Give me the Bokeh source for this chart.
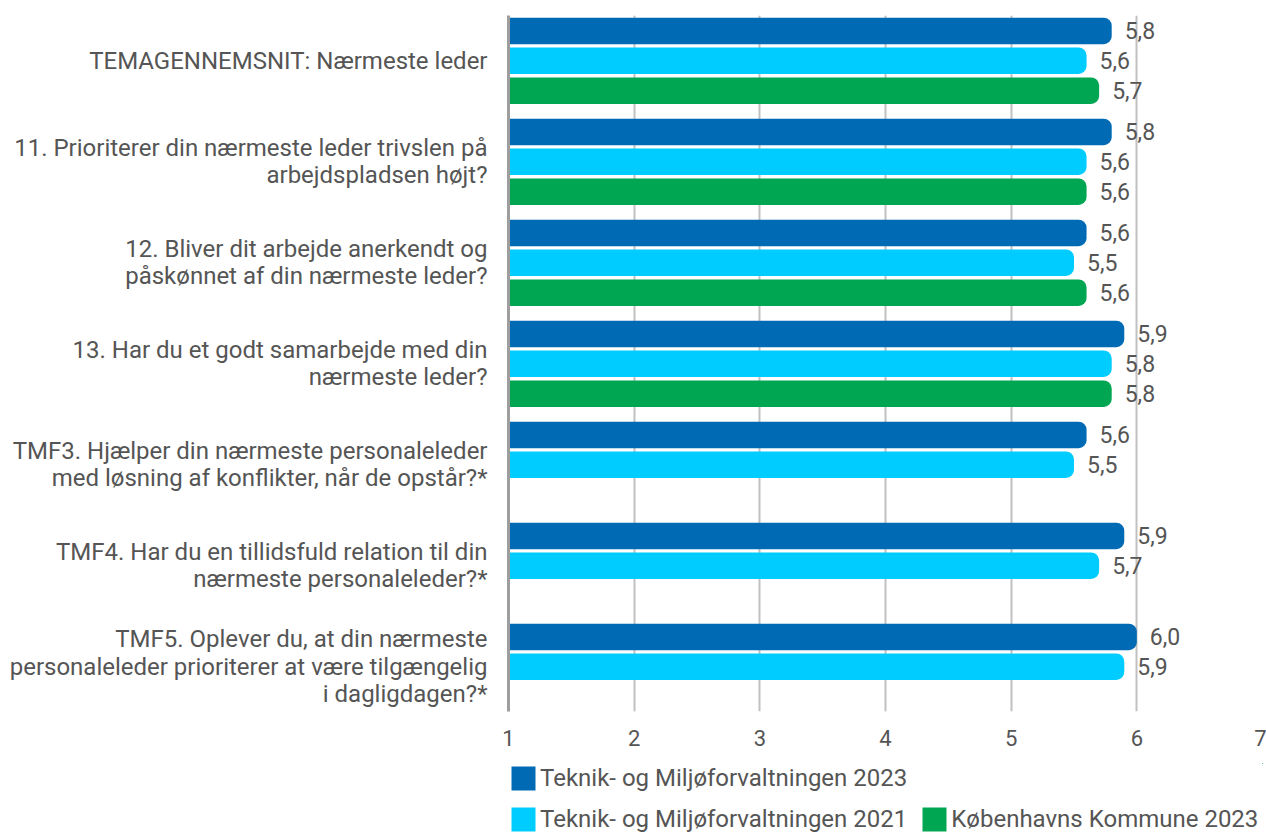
from bokeh.plotting import figure
from bokeh.layouts import column
from bokeh.models import (ColumnDataSource, Range1d, LabelSet, Legend, LegendItem,
                          FixedTicker)
from bokeh.core.properties import value
from bokeh.embed import file_html
from bokeh.resources import INLINE

categories = [
    "TEMAGENNEMSNIT: Nærmeste leder",
    "11. Prioriterer din nærmeste leder trivslen på\narbejdspladsen højt?",
    "12. Bliver dit arbejde anerkendt og\npåskønnet af din nærmeste leder?",
    "13. Har du et godt samarbejde med din\nnærmeste leder?",
    "TMF3. Hjælper din nærmeste personaleleder\nmed løsning af konflikter, når de opstår?*",
    "TMF4. Har du en tillidsfuld relation til din\nnærmeste personaleleder?*",
    "TMF5. Oplever du, at din nærmeste\npersonaleleder prioriterer at være tilgængelig\ni dagligdagen?*",
]
series_names = ["Teknik- og Miljøforvaltningen 2023",
                "Teknik- og Miljøforvaltningen 2021",
                "Københavns Kommune 2023"]
tmf_2023 = [5.8, 5.8, 5.6, 5.9, 5.6, 5.9, 6.0]
tmf_2021 = [5.6, 5.6, 5.5, 5.8, 5.5, 5.7, 5.9]
kk_2023 = [5.7, 5.6, 5.6, 5.8, None, None, None]
x_ticks = [1, 2, 3, 4, 5, 6, 7]

colors = ["#006AB4", "#00CCFF", "#00A651"]
offsets = [0.153, 0.447, 0.744]
bar_h = 0.262
text_color = "#555555"
FONT = "Roboto"

p = figure(frame_width=754, frame_height=696, output_backend="svg", toolbar_location=None,
           x_range=Range1d(1, 7), y_range=Range1d(6.891, 0),
           min_border_left=508, min_border_right=4, min_border_top=15,
           min_border_bottom=50)
p.outline_line_color = None
p.background_fill_color = "white"

sources = []
for vals, col, off in zip([tmf_2023, tmf_2021, kk_2023], colors, offsets):
    ys = [i + off for i, v in enumerate(vals) if v is not None]
    xs = [v for v in vals if v is not None]
    src = ColumnDataSource(dict(y=ys, right=xs,
                                txt=[f"{v:.1f}".replace(".", ",") for v in xs]))
    sources.append(src)
    p.hbar(y="y", left=1, right="right", height=bar_h, source=src,
           fill_color=col, line_color=None, border_radius=(0, 8, 8, 0))
    p.add_layout(LabelSet(x="right", y="y", text="txt", source=src, x_offset=13,
                          text_baseline="middle", text_align="left",
                          text_font=value(FONT), text_font_size="23px",
                          text_color=text_color))

# x axis
p.xaxis.ticker = FixedTicker(ticks=x_ticks)
p.xaxis.axis_line_color = None
p.xaxis.major_tick_line_color = None
p.xaxis.minor_tick_line_color = None
p.xaxis.major_label_standoff = 12
p.xaxis.major_label_text_font = FONT
p.xaxis.major_label_text_font_size = "22px"
p.xaxis.major_label_text_color = text_color

# y axis carries the question labels
ytick_pos = [i + offsets[1] for i in range(len(categories))]
p.yaxis.ticker = FixedTicker(ticks=ytick_pos)
p.yaxis.major_label_overrides = {t: c for t, c in zip(ytick_pos, categories)}
p.yaxis.axis_line_color = "#9e9e9e"
p.yaxis.axis_line_width = 3
p.yaxis.major_tick_line_color = None
p.yaxis.major_tick_out = 0
p.yaxis.major_tick_in = 0
p.yaxis.minor_tick_line_color = None
p.yaxis.major_label_standoff = 21
p.yaxis.major_label_text_font = FONT
p.yaxis.major_label_text_font_size = "24px"
p.yaxis.major_label_text_color = text_color
p.yaxis.major_label_text_line_height = 0.97

p.xgrid.grid_line_color = "#c0c0c0"
p.xgrid.grid_line_width = 2
p.ygrid.grid_line_color = None

# legend strip below the chart (its bars lie outside its visible range)
lp = figure(width=1266, height=73, output_backend="svg", toolbar_location=None,
            x_range=Range1d(-100, -99), y_range=Range1d(-100, -99),
            x_axis_location=None, y_axis_location=None,
            min_border_left=501, min_border_right=0, min_border_top=2, min_border_bottom=0)
lp.outline_line_color = None
lp.grid.visible = False
lrs = [lp.hbar(y="y", left=1, right="right", height=bar_h, source=s, fill_color=c,
               line_color=None) for s, c in zip(sources, colors)]

leg1 = Legend(items=[LegendItem(label=series_names[0], renderers=[lrs[0]])],
              orientation="horizontal", location="top_left")
leg2 = Legend(items=[LegendItem(label=series_names[1], renderers=[lrs[1]]),
                     LegendItem(label=series_names[2], renderers=[lrs[2]])],
              orientation="horizontal", location="bottom_left")
for lg in (leg1, leg2):
    lg.border_line_color = None
    lg.background_fill_alpha = 0
    lg.glyph_width = 30
    lg.glyph_height = 30
    lg.label_height = 24
    lg.label_standoff = 2
    lg.spacing = 12
    lg.padding = 0
    lg.margin = 0
    lg.label_text_font = FONT
    lg.label_text_font_size = "24px"
    lg.label_text_color = text_color
    lp.add_layout(lg)

open("out.html", "w").write(file_html(column(p, lp, spacing=0), INLINE))
